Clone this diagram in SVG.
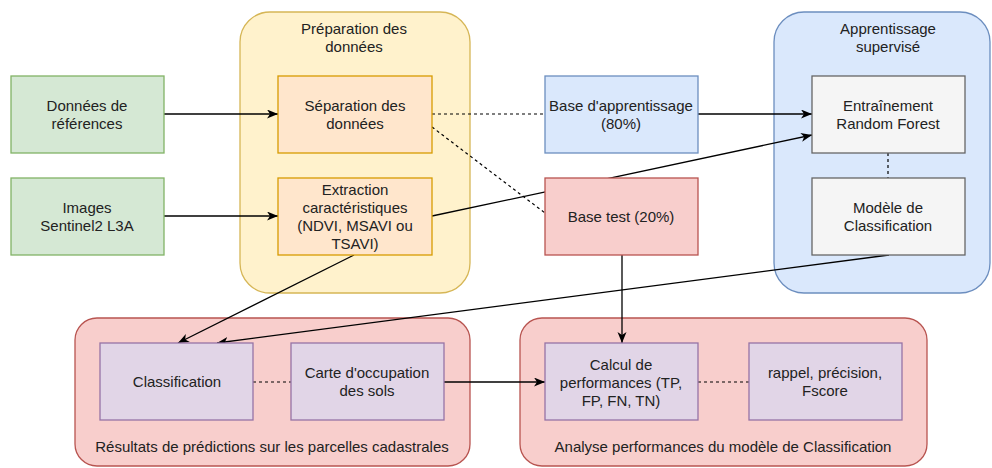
<svg xmlns="http://www.w3.org/2000/svg" width="992" height="468" viewBox="0 0 992 468">
<style>
text{font-family:"Liberation Sans",Arial,sans-serif;font-size:15px;fill:#222;text-anchor:middle}
.green{fill:#d5e8d4;stroke:#82b366}
.yel{fill:#fff2cc;stroke:#d6b656}
.ora{fill:#ffe6cc;stroke:#d79b00}
.blue{fill:#dae8fc;stroke:#6c8ebf}
.red{fill:#f8cecc;stroke:#b85450}
.pur{fill:#e1d5e7;stroke:#9673a6}
.grey{fill:#f5f5f5;stroke:#666666}
rect{stroke-width:1.3}
.ln{fill:none;stroke:#000;stroke-width:1.3}
.dash{fill:none;stroke:#000;stroke-width:1.2;stroke-dasharray:3 3}
.arr{marker-end:url(#ah)}
</style>
<defs>
<marker id="ah" markerUnits="userSpaceOnUse" markerWidth="12" markerHeight="10" refX="11" refY="4.5" orient="auto">
<path d="M0,0 L11,4.5 L0,9 L3,4.5 z" fill="#000"/>
</marker>
</defs>
<g id="grp-preparation">
<rect class="yel" x="240" y="12" width="230" height="281" rx="30"/>
<text x="354" y="34">Préparation des</text>
<text x="354" y="52">données</text>
</g>
<g id="grp-apprentissage">
<rect class="blue" x="774" y="12" width="216" height="281" rx="30"/>
<text x="888" y="34">Apprentissage</text>
<text x="888" y="52">supervisé</text>
</g>
<g id="grp-resultats">
<rect class="red" x="75" y="318" width="395" height="148" rx="22"/>
<text x="272" y="452">Résultats de prédictions sur les parcelles cadastrales</text>
</g>
<g id="grp-analyse">
<rect class="red" x="520" y="318" width="407" height="148" rx="22"/>
<text x="723" y="452">Analyse performances du modèle de Classification</text>
</g>
<g id="connectors">
<line class="ln arr" x1="164" y1="114" x2="278" y2="114"/>
<line class="ln arr" x1="164" y1="216" x2="278" y2="216"/>
<line class="dash" x1="432" y1="114" x2="545" y2="114"/>
<line class="dash" x1="432" y1="127" x2="545" y2="213"/>
<line class="ln arr" x1="432" y1="216" x2="812" y2="135"/>
<line class="ln arr" x1="698" y1="114" x2="812" y2="114"/>
<line class="dash" x1="888" y1="153" x2="888" y2="178"/>
<line class="ln arr" x1="354" y1="255" x2="178" y2="343"/>
<line class="ln arr" x1="889" y1="255" x2="217" y2="343"/>
<line class="ln arr" x1="622" y1="255" x2="622" y2="343"/>
<line class="dash" x1="253" y1="382" x2="291" y2="382"/>
<line class="ln arr" x1="444" y1="382" x2="545" y2="382"/>
<line class="dash" x1="698" y1="382" x2="749" y2="382"/>
</g>
<g id="n-donnees">
<rect class="green" x="11" y="76" width="153" height="77"/>
<text x="87" y="111">Données de</text>
<text x="87" y="129">références</text>
</g>
<g id="n-images">
<rect class="green" x="11" y="178" width="153" height="77"/>
<text x="87" y="213">Images</text>
<text x="87" y="231">Sentinel2 L3A</text>
</g>
<g id="n-separation">
<rect class="ora" x="278" y="76" width="154" height="77"/>
<text x="355" y="111">Séparation des</text>
<text x="355" y="129">données</text>
</g>
<g id="n-extraction">
<rect class="ora" x="278" y="178" width="154" height="77"/>
<text x="355" y="195">Extraction</text>
<text x="355" y="213">caractéristiques</text>
<text x="355" y="231">(NDVI, MSAVI ou</text>
<text x="355" y="249">TSAVI)</text>
</g>
<g id="n-base-app">
<rect class="blue" x="545" y="76" width="153" height="77"/>
<text x="621" y="111">Base d'apprentissage</text>
<text x="621" y="129">(80%)</text>
</g>
<g id="n-base-test">
<rect class="red" x="545" y="178" width="153" height="77"/>
<text x="621" y="222">Base test (20%)</text>
</g>
<g id="n-entrainement">
<rect class="grey" x="812" y="76" width="153" height="77"/>
<text x="888" y="111">Entraînement</text>
<text x="888" y="129">Random Forest</text>
</g>
<g id="n-modele">
<rect class="grey" x="812" y="178" width="153" height="77"/>
<text x="888" y="213">Modèle de</text>
<text x="888" y="231">Classification</text>
</g>
<g id="n-classification">
<rect class="pur" x="100" y="343" width="153" height="77"/>
<text x="177" y="387">Classification</text>
</g>
<g id="n-carte">
<rect class="pur" x="291" y="343" width="153" height="77"/>
<text x="367" y="378">Carte d'occupation</text>
<text x="367" y="396">des sols</text>
</g>
<g id="n-calcul">
<rect class="pur" x="545" y="343" width="153" height="77"/>
<text x="621" y="370">Calcul de</text>
<text x="621" y="388">performances (TP,</text>
<text x="621" y="406">FP, FN, TN)</text>
</g>
<g id="n-rappel">
<rect class="pur" x="749" y="343" width="153" height="77"/>
<text x="825" y="378">rappel, précision,</text>
<text x="825" y="396">Fscore</text>
</g>
</svg>
